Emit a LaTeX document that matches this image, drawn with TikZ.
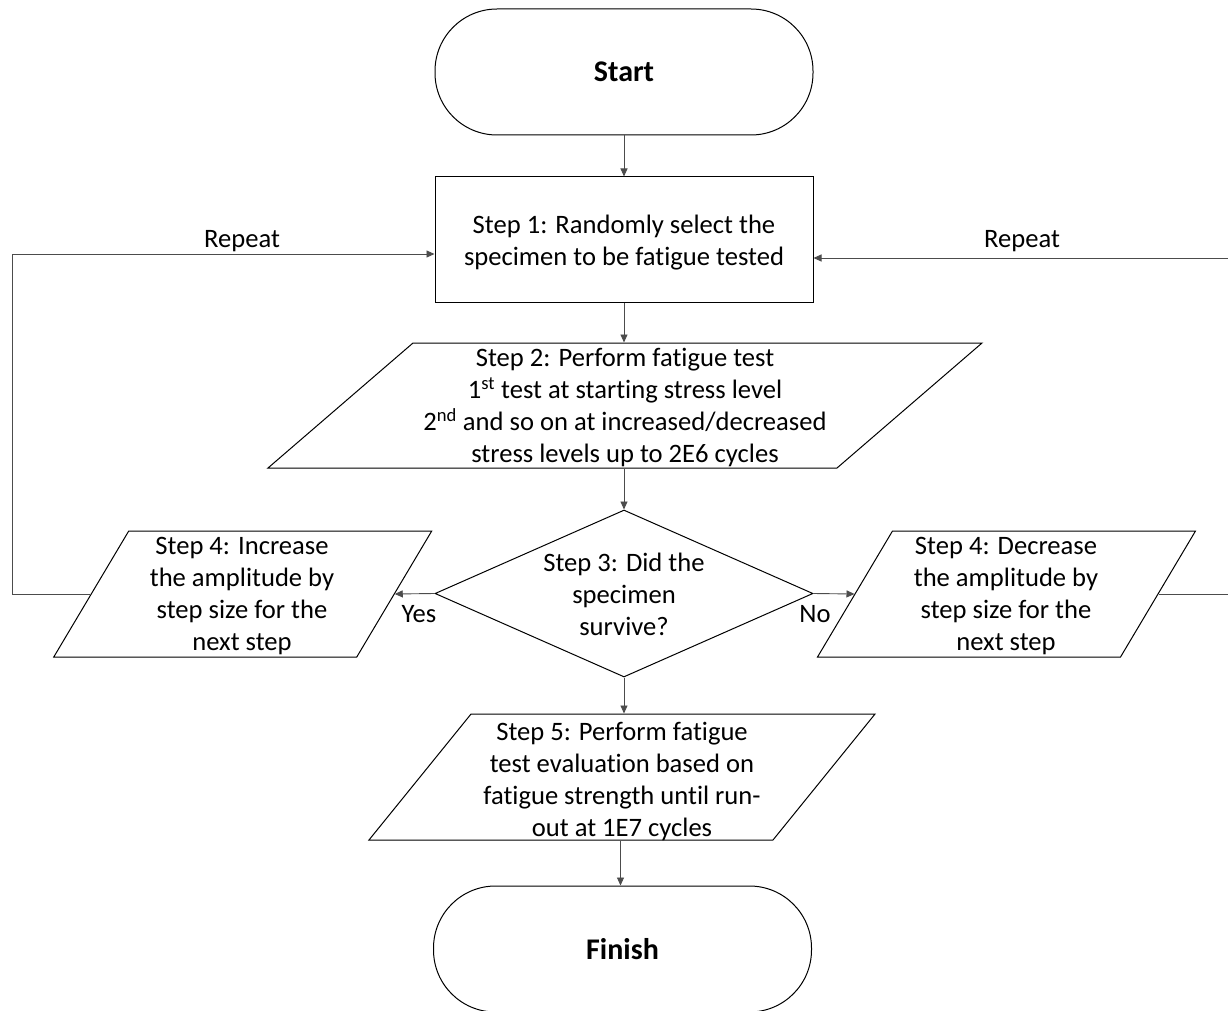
\documentclass[tikz,border=0pt]{standalone}
\usepackage{fontspec}
\setmainfont{Carlito}[Ligatures=NoCommon]
\usetikzlibrary{shapes.geometric,arrows.meta}
\begin{document}
\begin{tikzpicture}[x=1pt,y=-1pt,
  every node/.style={font=\fontsize{26.6}{32}\selectfont, align=center, inner sep=0pt},
  shp/.style={draw=black, line width=1pt, fill=white},
  term/.style={shp, rectangle, rounded corners=62pt, minimum width=378pt, minimum height=126pt, font=\fontsize{30}{36}\selectfont\bfseries},
  procbox/.style={shp, rectangle, minimum width=378pt, minimum height=125pt},
  para/.style={shp, rectangle},
  conn/.style={draw=black!70, line width=0.9pt},
  arr/.style={conn, -{Triangle[length=8pt,width=7pt]}},
  lbl/.style={font=\fontsize{26.6}{32}\selectfont},
]
\useasboundingbox (0,0) rectangle (1228,1011);

% shapes
\node[term] (st) at (624,72) {Start};
\node[procbox] (s1) at (624,239.5) {};
\node[para, minimum width=569pt, minimum height=125pt, xslant=1.16] (s2) at (625,405.5) {};
\node[shp, diamond, minimum width=378pt, minimum height=167pt] (d) at (624,593.5) {};
\node[para, minimum width=303pt, minimum height=126pt, xslant=0.595] (p4l) at (242.75,594) {};
\node[para, minimum width=303pt, minimum height=126pt, xslant=0.595] (p4r) at (1006.5,594) {};
\node[para, minimum width=404pt, minimum height=126pt, xslant=0.81] (s5) at (622,777) {};
\node[term] (fin) at (622.5,949) {Finish};

% texts
\node (t1) at (624,242.5) {Step 1: Randomly select the\\specimen to be fatigue tested};
\node (t2) at (625,407.5) {Step 2: Perform fatigue test\\1\textsuperscript{st} test at starting stress level\\2\textsuperscript{nd} and so on at increased/decreased\\stress levels up to 2E6 cycles};
\node (t3) at (624,594) {Step 3: Did the\\specimen\\survive?};
\node (t4l) at (242,596) {Step 4: Increase\\the amplitude by\\step size for the\\next step};
\node (t4r) at (1006,596) {Step 4: Decrease\\the amplitude by\\step size for the\\next step};
\node (t5) at (622,781) {Step 5: Perform fatigue\\test evaluation based on\\fatigue strength until run-\\out at 1E7 cycles};

\node[lbl] (rl) at (242,241) {Repeat};
\node[lbl] (rr) at (1022,241) {Repeat};
\node[lbl] (yes) at (419,614) {Yes};
\node[lbl] (no) at (815,614) {No};

\coordinate (L1) at (12,254);
\coordinate (R1) at (1240,258);

% connectors
\draw[arr] (st.south) -- (s1.north);
\draw[arr] (s1.south) -- (s1.south |- s2.north);
\draw[arr] (d.north |- s2.south) -- (d.north);
\draw[arr] (d.west) -- (p4l.east);
\draw[arr] (d.east) -- (p4r.west);
\draw[arr] (d.south) -- (d.south |- s5.north);
\draw[arr] ([xshift=-2pt]fin.north |- s5.south) -- ([xshift=-2pt]fin.north);
\draw[arr] (p4l.west) -| (L1) -- (s1.west |- L1);
\draw[arr] (p4r.east) -| (R1) -- (s1.east |- R1);
\end{tikzpicture}
\end{document}
